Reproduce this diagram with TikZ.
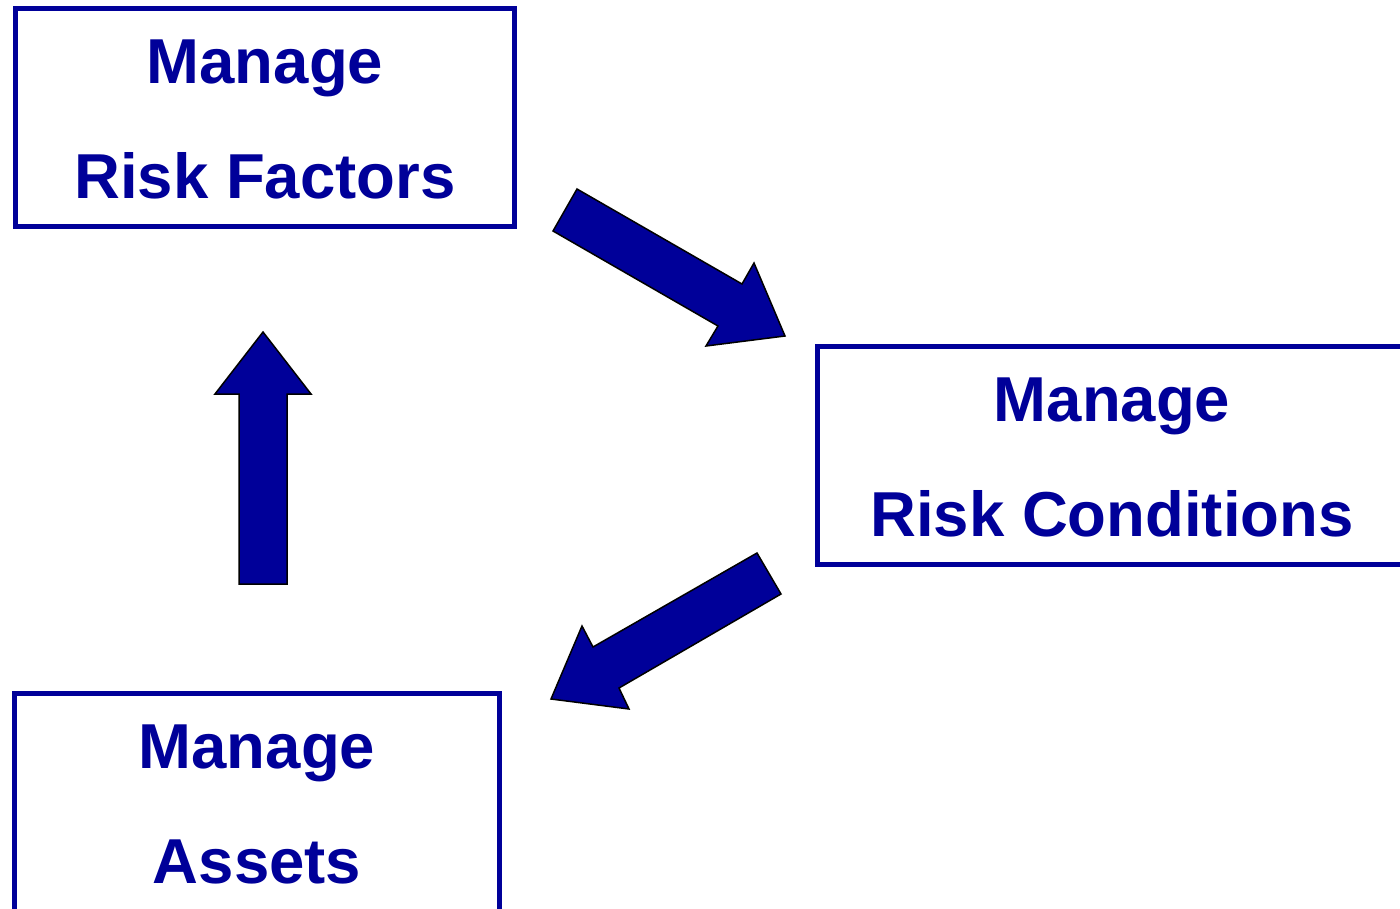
\documentclass[tikz,border=0pt]{standalone}
\usepackage{fontspec}
\setmainfont{Liberation Sans}
\usepackage{tikz}
\usetikzlibrary{positioning}
\definecolor{riskblue}{RGB}{0,0,153}
\newcommand{\topgap}{\rule{0pt}{49pt}}

\begin{document}
\begin{tikzpicture}[x=1pt, y=-1pt,
    main/.style = {draw=riskblue, line width=5pt, text=riskblue, align=center,
                   font=\bfseries\fontsize{63.5}{115}\selectfont, inner sep=0pt},
    arr/.style = {fill=riskblue, draw=black, line width=1.5pt, line join=miter}]
            \useasboundingbox (0,0) rectangle (1400,908);
            \clip (0,0) rectangle (1400,908);
            % Boxes
            \node[main, minimum width=499pt, minimum height=218pt] (1) at (265,117) {\topgap Manage\\Risk Factors};
            \node[main, minimum width=590pt, minimum height=218pt] (2) at (1112,455) {\topgap Manage\\Risk Conditions};
            \node[main, minimum width=485pt, minimum height=218pt] (3) at (257,802) {\topgap Manage\\Assets};
            % Arrows
            \draw[arr] (577,189) -- (742,284) -- (754,263) -- (785,336) -- (706,346) -- (718,326) -- (553,231) -- cycle;
            \draw[arr] (757,553) -- (781,594) -- (619,688) -- (629,709) -- (551,699) -- (582,626) -- (593,647) -- cycle;
            \draw[arr] (263,332) -- (311,394) -- (287,394) -- (287,584) -- (239,584) -- (239,394) -- (215,394) -- cycle;
\end{tikzpicture}
\end{document}
